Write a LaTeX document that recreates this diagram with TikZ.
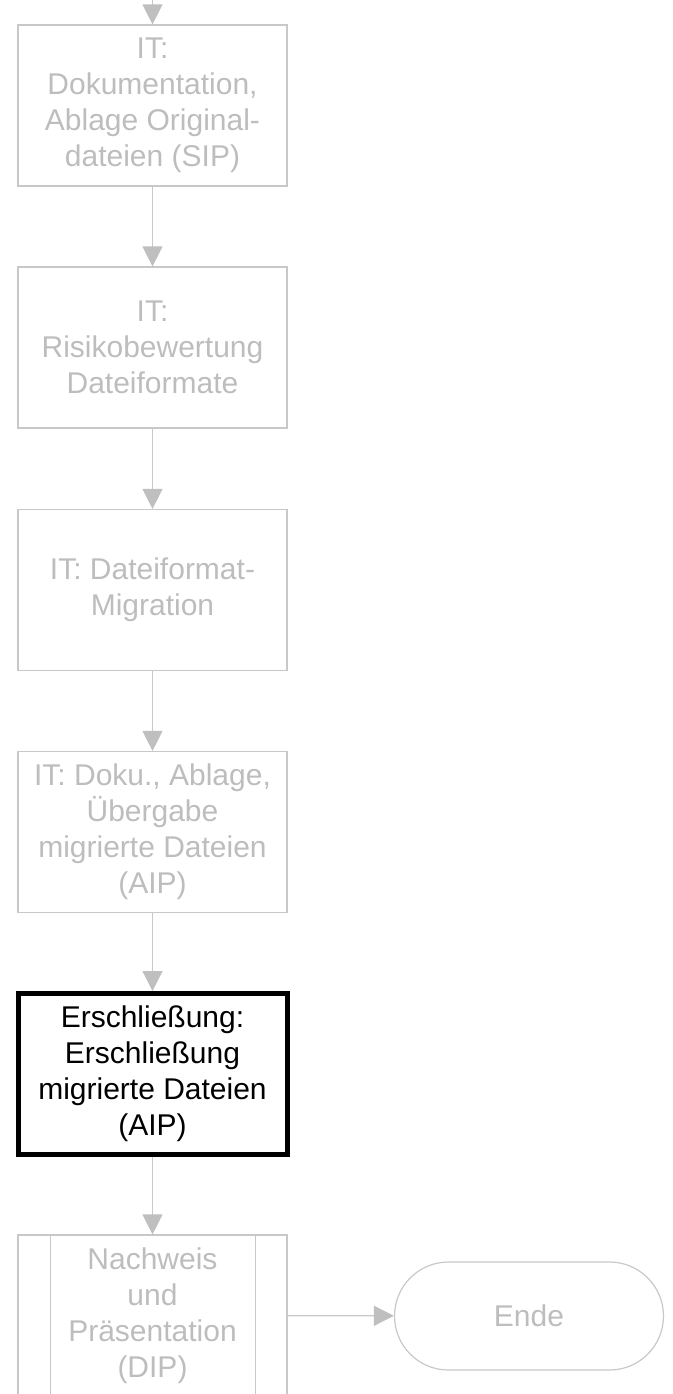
\documentclass[tikz,border=0pt]{standalone}
\usepackage{fontspec}
\setmainfont{Liberation Sans}
\usetikzlibrary{arrows.meta, positioning}
\definecolor{cline}{HTML}{C8C8C8}
\definecolor{ctext}{HTML}{BDBDBD}
\definecolor{chead}{HTML}{BFBFBF}
\tikzset{
  every picture/.style={line width=0.6pt},
  box/.style={draw=cline, text=ctext, align=center, inner sep=0pt,
    minimum width=134.5pt, minimum height=80.5pt, font=\fontsize{15}{18}\selectfont},
  boxhl/.style={box, draw=black, text=black, line width=2.5pt},
  term/.style={box, minimum height=54pt, rounded corners=27pt},
  arrow/.style={draw=cline, -{Triangle[length=10pt, width=10pt, fill=chead, color=chead]}},
  sideline/.style={draw=cline},
}

\begin{document}
\begin{tikzpicture}[x=0.5pt, y=-0.5pt]
  \useasboundingbox (0,0) rectangle (673,1394);
  % process chain
  \coordinate (start) at (152.5,0);
  \node[box] (doku) at (152.5,105.5) {IT:\\Dokumentation,\\Ablage Original-\\dateien (SIP)};
  \node[box] (risiko) at (152.5,347.5) {IT:\\Risikobewertung\\Dateiformate};
  \node[box] (migration) at (152.5,590) {IT: Dateiformat-\\Migration};
  \node[box] (uebergabe) at (152.5,832) {IT: Doku., Ablage,\\Übergabe\\migrierte Dateien\\(AIP)};
  \node[boxhl] (erschl) at (152.5,1074) {Erschließung:\\Erschließung\\migrierte Dateien\\(AIP)};
  \node[box] (nachweis) at (152.5,1315.5) {Nachweis\\und\\Präsentation\\(DIP)};
  \draw[sideline] ([xshift=16.5pt]nachweis.north west) -- ([xshift=16.5pt]nachweis.south west);
  \draw[sideline] ([xshift=-16pt]nachweis.north east) -- ([xshift=-16pt]nachweis.south east);
  \node[term] (ende) at (529,1316) {Ende};
  % connectors
  \draw[arrow] (start) -- (doku);
  \draw[arrow] (doku) -- (risiko);
  \draw[arrow] (risiko) -- (migration);
  \draw[arrow] (migration) -- (uebergabe);
  \draw[arrow] (uebergabe) -- (erschl);
  \draw[arrow] (erschl) -- (nachweis);
  \draw[arrow] (nachweis) -- (ende);
\end{tikzpicture}
\end{document}
